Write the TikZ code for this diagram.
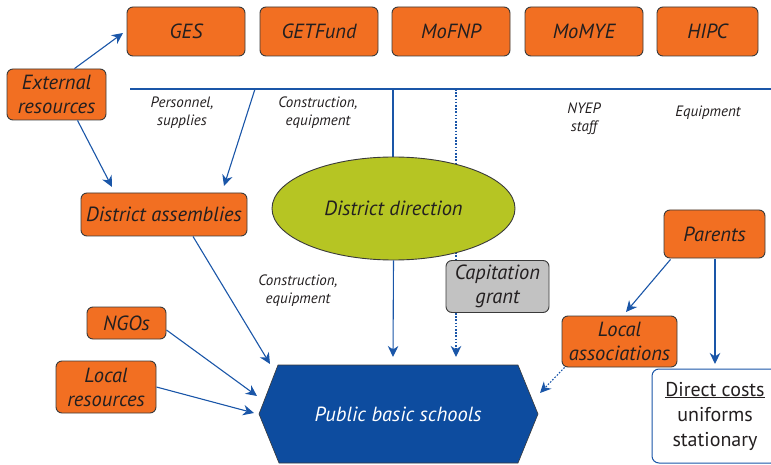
\documentclass[tikz,border=0pt]{standalone}
\usepackage{fontspec}
\setmainfont{PT Sans}
\usetikzlibrary{arrows.meta,shapes.geometric}

\definecolor{boxfill}{HTML}{F26F22}
\definecolor{boxline}{HTML}{3A3A3A}
\definecolor{ink}{HTML}{231F20}
\definecolor{flow}{HTML}{1A56A8}
\definecolor{schoolblue}{HTML}{0D4C9F}
\definecolor{olive}{HTML}{B6C523}
\definecolor{greyfill}{HTML}{C2C2C2}

\tikzset{
  bigtext/.style={font=\itshape\fontsize{20.5}{24}\selectfont},
  src/.style={draw=boxline, fill=boxfill, line width=0.9pt, rounded corners=6pt,
    text=ink, align=center, inner sep=0pt, bigtext},
  note/.style={text=ink, align=center, inner sep=0pt,
    font=\itshape\fontsize{15}{18}\selectfont},
  flowline/.style={draw=flow, line width=1.1pt},
  arr/.style={flowline, -{Stealth[length=11pt,width=10.5pt,inset=3.5pt]}},
  dotarr/.style={arr, dash pattern=on 1.6pt off 1.6pt},
}

\begin{document}
\begin{tikzpicture}[x=1pt,y=-1pt]
\useasboundingbox (0,0) rectangle (771,465);

% funding sources along the top
\node[src, minimum width=118pt, minimum height=49pt] (ges)   at (186,31.5) {GES};
\node[src, minimum width=118pt, minimum height=49pt] (getf)  at (319,31.5) {GETFund};
\node[src, minimum width=118pt, minimum height=49pt] (mofnp) at (451,31.5) {MoFNP};
\node[src, minimum width=118pt, minimum height=49pt] (momye) at (584,31.5) {MoMYE};
\node[src, minimum width=101pt, minimum height=49pt] (hipc)  at (707.5,31.5) {HIPC};

\node[src, minimum width=99pt, minimum height=51pt] (ext) at (56.5,94.5) {External\\resources};

% distribution bus and its taps
\coordinate (busL) at (130,89);
\coordinate (busR) at (771,89);
\coordinate (tapDA) at (255,89);
\coordinate (tapDD) at (393,89);
\coordinate (tapCG) at (456,89);
\draw[flowline] (busL) -- (busR);

\node[note] (lpers) at (182,113) {Personnel,\\supplies};
\node[note] (lcons) at (318,113) {Construction,\\equipment};
\node[note] (lnyep) at (584,119) {NYEP\\staff};
\node[note] (lequip) at (708,113) {Equipment};

% capitation grant flow passes behind the district direction
\coordinate (cgEnd) at (456,357);
\draw[dotarr] (tapCG) -- (cgEnd);

\draw[flowline] (tapDD) -- (393,160);

\node[draw=boxline, fill=olive, line width=0.9pt, ellipse, minimum width=243pt,
  minimum height=103pt, inner sep=0pt, text=ink, bigtext] (dd) at (393.5,208.5) {District direction};

\node[src, fill=greyfill, minimum width=103pt, minimum height=52pt] (cg) at (497.5,286.5) {Capitation\\grant};

\node[src, minimum width=166pt, minimum height=43pt] (da) at (164,214.5) {District assemblies};
\node[src, minimum width=79pt, minimum height=32pt] (ngo) at (126.5,323) {NGOs};
\node[src, minimum width=100pt, minimum height=52pt] (lr) at (106,387) {Local\\resources};
\node[src, minimum width=101pt, minimum height=48pt] (par) at (714.5,234) {Parents};
\node[src, minimum width=115pt, minimum height=51pt] (la) at (619.5,341.5) {Local\\associations};

\node[note] (lcons2) at (298,291) {Construction,\\equipment};

% public basic schools
\draw[fill=schoolblue, draw=boxline, line width=0.6pt]
  (259,414) -- (278,365) -- (518,365) -- (538,414) -- (518,463) -- (279,463) -- cycle;
\node[text=white, bigtext] (pbs) at (398,414) {Public basic schools};

% direct costs borne by parents
\node[draw=flow, fill=white, line width=1pt, rounded corners=7pt, minimum width=126pt,
  minimum height=94pt, inner sep=0pt, align=center, text=ink,
  font=\fontsize{20}{25}\selectfont] (dc) at (715,416) {\underline{Direct costs}\\uniforms\\stationary};

% flows
\coordinate (extGES) at (123,33);
\coordinate (extDA) at (112,187);
\coordinate (busDA) at (224,186);
\coordinate (ddEnd) at (393,357);
\coordinate (daEnd) at (270,364);
\coordinate (ngoEnd) at (257,396);
\coordinate (lrEnd) at (254,413);
\coordinate (parLA) at (626,312);
\coordinate (parDC) at (715,364);
\coordinate (laEnd) at (540,393);

\draw[arr] (ext.north) ++(18,0) -- (extGES);
\draw[arr] (ext.south) ++(21,0) -- (extDA);
\draw[arr] (tapDA) -- (busDA);
\draw[arr] (dd.south) -- (ddEnd);
\draw[arr] (da.south) ++(29,0) -- (daEnd);
\draw[arr] (ngo.east) ++(0,7) -- (ngoEnd);
\draw[arr] (lr.east) -- (lrEnd);
\draw[arr] (par.south) ++(-44,1) -- (parLA);
\draw[arr] (par.south) ++(0.5,1) -- (parDC);
\draw[dotarr] (la.south west) ++(3,0) -- (laEnd);
\end{tikzpicture}
\end{document}
